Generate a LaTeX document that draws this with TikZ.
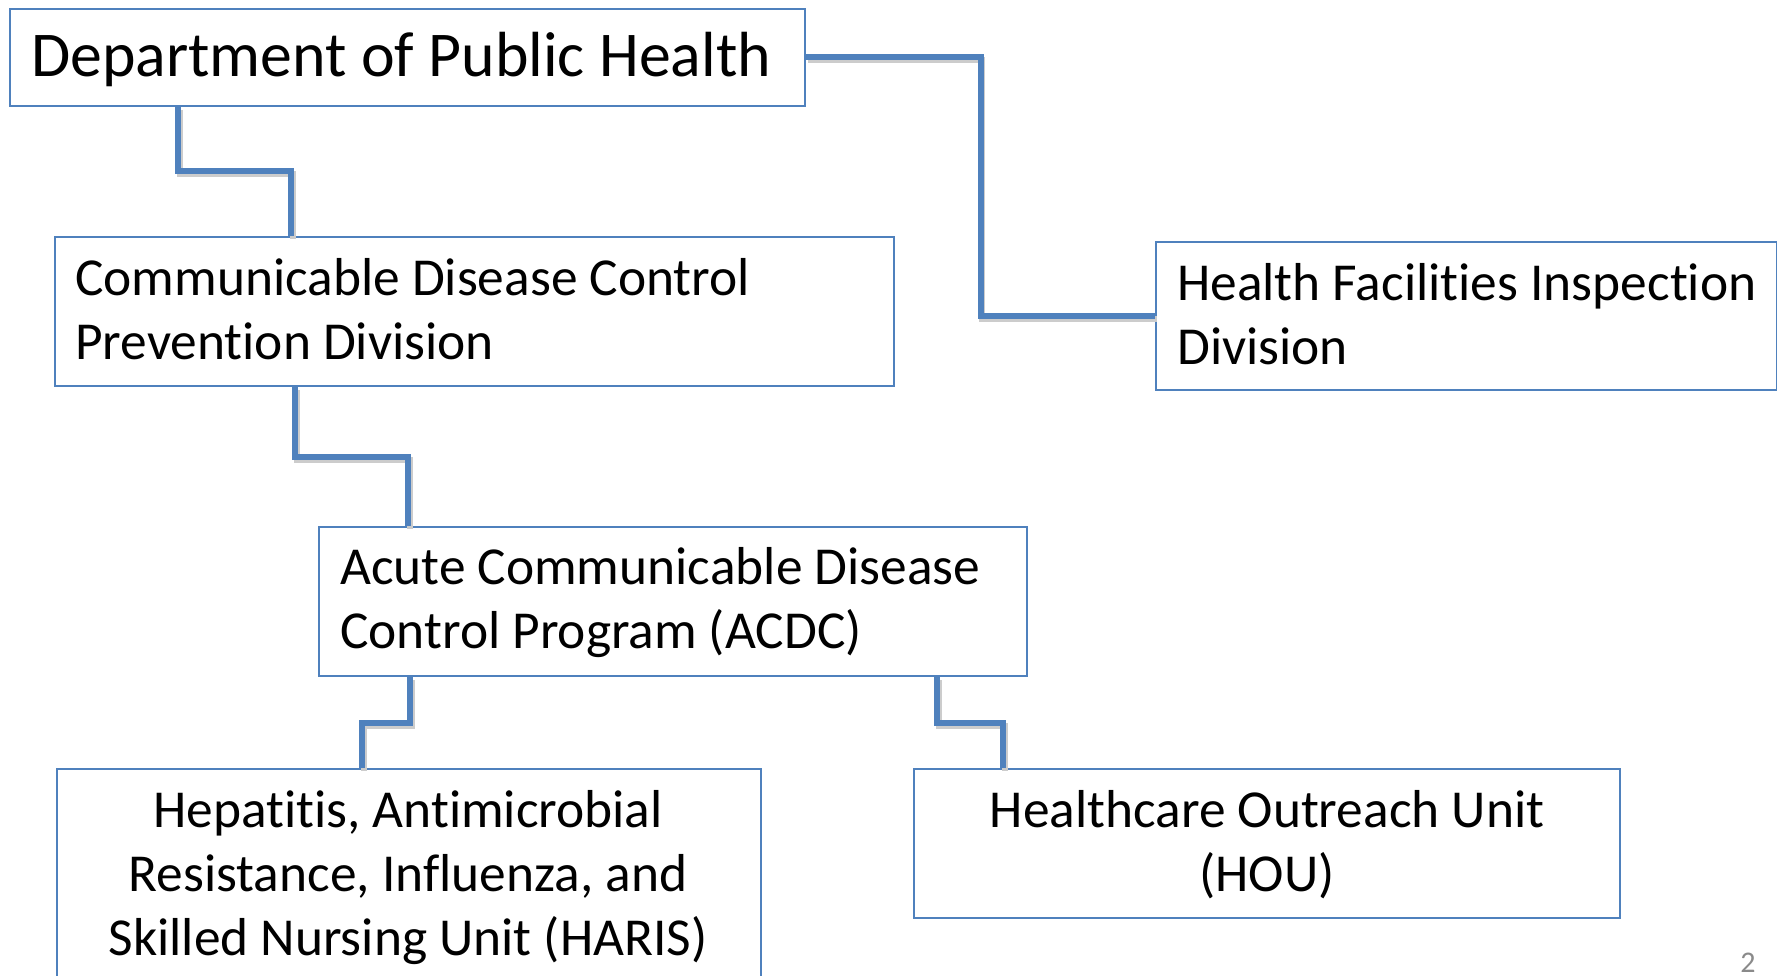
\documentclass[tikz,border=0pt]{standalone}
\usepackage{fontspec}
\setmainfont{Carlito}[Ligatures=NoCommon]
\usetikzlibrary{calc}
\definecolor{accent}{HTML}{4F81BD}
\definecolor{pgnum}{HTML}{8A8A8A}
\tikzset{
  orgbox/.style={draw=accent, line width=2pt, fill=white, rectangle, inner sep=0pt, anchor=north west},
  bigtxt/.style={inner sep=0pt, font=\fontsize{63.8}{74}\selectfont, text=black},
  txt/.style={inner sep=0pt, font=\fontsize{53.4}{64}\selectfont, text=black},
  conn/.style={draw=accent, line width=6pt,
    preaction={draw=black!20, line width=6pt, transform canvas={shift={(1.5pt,-3pt)}}}},
}
\begin{document}
\begin{tikzpicture}[x=1pt,y=-1pt]
\useasboundingbox (0,0) rectangle (1777,976);
\clip (0,0) rectangle (1777,976);
% boxes
\node[orgbox, minimum width=795pt, minimum height=97pt] (dph) at (9,8) {};
\node[orgbox, minimum width=839pt, minimum height=149pt] (cdc) at (54,236) {};
\node[orgbox, minimum width=621pt, minimum height=148pt] (hfi) at (1155,241) {};
\node[orgbox, minimum width=708pt, minimum height=149pt] (acdc) at (318,526) {};
\node[orgbox, minimum width=704pt, minimum height=262pt] (haris) at (56,768) {};
\node[orgbox, minimum width=706pt, minimum height=149pt] (hou) at (913,768) {};
% connector ends
\coordinate (c1s) at ([xshift=169pt]dph.south west);
\coordinate (c1e) at ([xshift=237pt]cdc.north west);
\coordinate (c3s) at ([xshift=241pt]cdc.south west);
\coordinate (c3e) at ([xshift=90pt]acdc.north west);
\coordinate (c4s) at ([xshift=92pt]acdc.south west);
\coordinate (c4e) at ([xshift=306pt]haris.north west);
\coordinate (c5s) at ([xshift=619pt]acdc.south west);
\coordinate (c5e) at ([xshift=90pt]hou.north west);
\draw[conn] (c1s) |- ($(c1s)!.5!(c1e)$) -| (c1e);
\draw[conn] (dph.east) -| ($(dph.east)!.5!(hfi.west)$) |- (hfi.west);
\draw[conn] (c3s) |- ($(c3s)!.5!(c3e)$) -| (c3e);
\draw[conn] (c4s) |- ($(c4s)!.5!(c4e)$) -| (c4e);
\draw[conn] (c5s) |- ($(c5s)!.5!(c5e)$) -| (c5e);
% texts (base anchor = baseline of the last line)
\node[bigtxt, anchor=base west] (dphT) at (31,77) {Department of Public Health};
\node[txt, anchor=base west, align=left] (cdcT) at (75,359) {Communicable Disease Control\\Prevention Division};
\node[txt, anchor=base west, align=left] (hfiT) at (1177,364) {Health Facilities Inspection\\Division};
\node[txt, anchor=base west, align=left] (acdcT) at (340,648) {Acute Communicable Disease\\Control Program (ACDC)};
\node[txt, anchor=base, align=center] (harisT) at (408,955) {Hepatitis, Antimicrobial\\Resistance, Influenza, and\\Skilled Nursing Unit (HARIS)};
\node[txt, anchor=base, align=center] (houT) at (1267,891) {Healthcare Outreach Unit\\(HOU)};
\node[inner sep=0pt, anchor=base, font=\fontsize{30}{36}\selectfont, text=pgnum] (pg) at (1748,972) {2};
\end{tikzpicture}
\end{document}
